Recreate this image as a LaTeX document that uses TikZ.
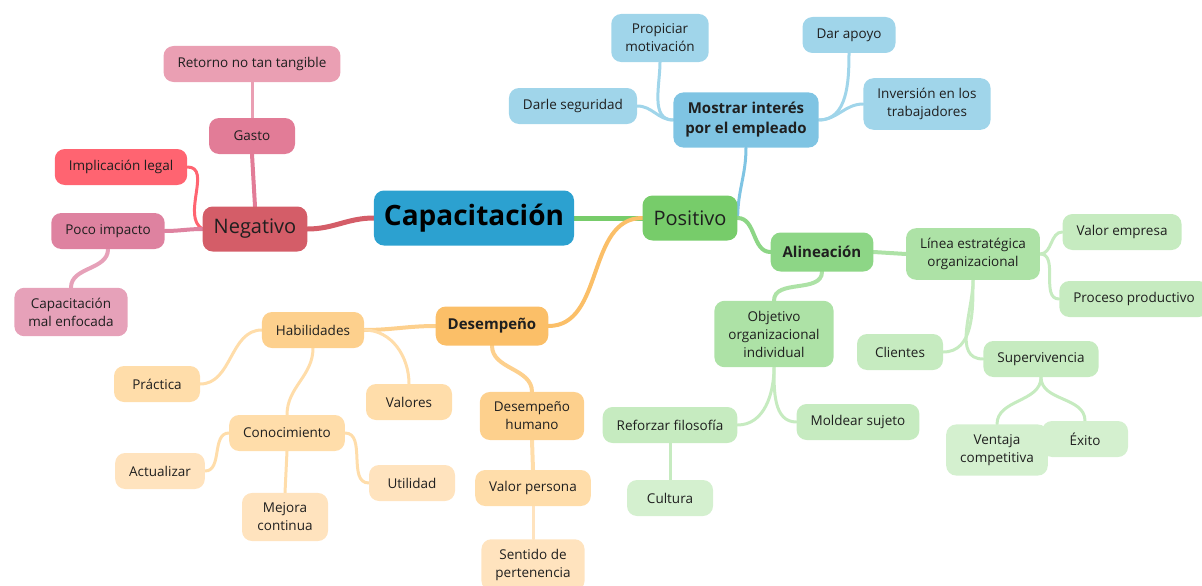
\documentclass[tikz,border=0pt]{standalone}
\usepackage{fontspec}
\setmainfont{Open Sans}
\usetikzlibrary{backgrounds}
\definecolor{txt}{HTML}{1F1F1F}
\definecolor{rootc}{HTML}{2CA1D0}
\definecolor{negc}{HTML}{D45D68}
\definecolor{gasc}{HTML}{E27C97}
\definecolor{retc}{HTML}{EA9FB3}
\definecolor{impc}{HTML}{FF6471}
\definecolor{pocc}{HTML}{DE82A0}
\definecolor{malc}{HTML}{E6A1B9}
\definecolor{posc}{HTML}{77CC6A}
\definecolor{bluea}{HTML}{7FC4E3}
\definecolor{blueb}{HTML}{A0D5EA}
\definecolor{greena}{HTML}{8DD686}
\definecolor{greenb}{HTML}{ADE2A6}
\definecolor{greenc}{HTML}{C6EBC0}
\definecolor{greend}{HTML}{D4F0CF}
\definecolor{orangea}{HTML}{FBBF68}
\definecolor{orangeb}{HTML}{FDD08D}
\definecolor{orangec}{HTML}{FFDDAA}
\definecolor{oranged}{HTML}{FFE3BE}
\begin{document}
\begin{tikzpicture}
	[x=1pt,y=-1pt,
	 box/.style={rounded corners=10pt,inner xsep=14pt,inner ysep=10pt,minimum height=36pt,
	   minimum width=86pt,align=center,text=txt,font=\fontsize{13.5}{18}\selectfont},
	 root/.style={box,fill=rootc,minimum height=55pt,inner xsep=10pt,text=black,
	   font=\fontsize{28}{32}\selectfont\bfseries},
	 branch/.style={box,minimum height=45pt,inner xsep=11pt,font=\fontsize{20}{24}\selectfont},
	 topic/.style={box,minimum height=39pt,inner xsep=12pt,font=\fontsize{15}{20}\selectfont\bfseries},
	 link/.style={line width=4pt,line cap=round},
	 twig/.style={line width=3pt,line cap=round}]
    \useasboundingbox (0,0) rectangle (1202,586);
    % centre and the two sides
    \node[root] (cap) at (474,218) {Capacitación};
    \node[branch,fill=negc] (neg) at (255,229) {Negativo};
    \node[branch,fill=posc] (pos) at (690,218) {Positivo};
    % negativo
    \node[box,fill=gasc] (gas) at (252,136) {Gasto};
    \node[box,fill=retc] (ret) at (252,64) {Retorno no tan tangible};
    \node[box,fill=impc] (imp) at (121,167) {Implicación legal};
    \node[box,fill=pocc] (poc) at (108,231) {Poco impacto};
    \node[box,fill=malc] (mal) at (71,312) {Capacitación\\mal enfocada};
    % mostrar interes
    \node[topic,fill=bluea] (mos) at (746,120) {Mostrar interés\\por el empleado};
    \node[box,fill=blueb] (pro) at (660,38) {Propiciar\\motivación};
    \node[box,fill=blueb] (apo) at (849,35) {Dar apoyo};
    \node[box,fill=blueb] (seg) at (573,106) {Darle seguridad};
    \node[box,fill=blueb] (inv) at (927,104) {Inversión en los\\trabajadores};
    % alineacion
    \node[topic,fill=greena] (ali) at (822,252) {Alineación};
    \node[box,fill=greenb] (lin) at (973,254) {Línea estratégica\\organizacional};
    \node[box,fill=greenc] (vem) at (1122,232) {Valor empresa};
    \node[box,fill=greenc] (ppr) at (1134,299) {Proceso productivo};
    \node[box,fill=greenb] (obj) at (774,334) {Objetivo\\organizacional\\individual};
    \node[box,fill=greenc] (cli) at (900,352) {Clientes};
    \node[box,fill=greenc] (sup) at (1041,359) {Supervivencia};
    \node[box,fill=greend] (exi) at (1085,439) {Éxito};
    \node[box,fill=greend] (ven) at (997,450) {Ventaja\\competitiva};
    \node[box,fill=greenc] (ref) at (670,425) {Reforzar filosofía};
    \node[box,fill=greenc] (mol) at (858,422) {Moldear sujeto};
    \node[box,fill=greend] (cul) at (670,498) {Cultura};
    % desempeno
    \node[topic,fill=orangea] (des) at (492,326) {Desempeño};
    \node[box,fill=orangeb] (hab) at (313,330) {Habilidades};
    \node[box,fill=orangec] (pra) at (157,384) {Práctica};
    \node[box,fill=orangec] (val) at (409,402) {Valores};
    \node[box,fill=orangec] (con) at (287,433) {Conocimiento};
    \node[box,fill=oranged] (act) at (160,471) {Actualizar};
    \node[box,fill=oranged] (uti) at (412,483) {Utilidad};
    \node[box,fill=oranged] (mej) at (285,517) {Mejora\\continua};
    \node[box,fill=orangeb] (dhu) at (532,416) {Desempeño\\humano};
    \node[box,fill=orangec] (vpe) at (533,488) {Valor persona};
    \node[box,fill=oranged] (sen) at (533,565) {Sentido de\\pertenencia};
    \begin{scope}[on background layer]
    \draw [link,line width=5pt,negc] (cap.west) to[out=180,in=0] (neg.east);
    \draw [link,line width=5pt,posc] (cap.east) -- (pos.west);
    \draw [link,orangea] (pos.west) to[out=180,in=0] (des.east);
    \draw [twig,bluea] (pos.east) to[out=90,in=-90] (mos.south);
    \draw [link,greena] (pos.east) to[out=0,in=180] (ali.west);
    \draw [link,gasc] (neg.north) -- (gas.south);
    \draw [twig,retc] (gas.north) -- (ret.south);
    \draw [twig,impc] (neg.west) to[out=150,in=0] (imp.east);
    \draw [link,pocc] (neg.west) to[out=180,in=0] (poc.east);
    \draw [link,malc] (poc.south) to[out=-90,in=90] (mal.north);
    \draw [twig,blueb] (mos.west) to[out=180,in=-90] (pro.south);
    \draw [twig,blueb] (mos.west) to[out=180,in=0] (seg.east);
    \draw [twig,blueb] (mos.east) to[out=0,in=-90] (apo.south);
    \draw [twig,blueb] (mos.east) to[out=0,in=180] (inv.west);
    \draw [link,greenb] (ali.east) -- (lin.west);
    \draw [link,greenb] (ali.south) to[out=-90,in=90] (obj.north);
    \draw [twig,greenc] (lin.east) to[out=0,in=180] (vem.west);
    \draw [twig,greenc] (lin.east) to[out=0,in=180] (ppr.west);
    \draw [twig,greenc] (lin.south) to[out=-90,in=0] (cli.east);
    \draw [twig,greenc] (lin.south) to[out=-90,in=180] (sup.west);
    \draw [twig,greenc] (sup.south) to[out=-90,in=90] (ven.north);
    \draw [twig,greenc] (sup.south) to[out=-90,in=90] (exi.north);
    \draw [twig,greenc] (obj.south) to[out=-90,in=0] (ref.east);
    \draw [twig,greenc] (obj.south) to[out=-90,in=180] (mol.west);
    \draw [twig,greenc] (ref.south) -- (cul.north);
    \draw [link,orangeb] (des.west) to[out=180,in=0] (hab.east);
    \draw [link,orangeb] (des.south) to[out=-90,in=90] (dhu.north);
    \draw [twig,orangec] (hab.west) to[out=180,in=0] (pra.east);
    \draw [twig,orangec] (hab.east) to[out=0,in=90] (val.north);
    \draw [twig,orangec] (hab.south) to[out=-90,in=90] (con.north);
    \draw [twig,orangec] (con.west) to[out=180,in=0] (act.east);
    \draw [twig,orangec] (con.east) to[out=0,in=180] (uti.west);
    \draw [twig,orangec] (con.south) -- (mej.north);
    \draw [link,orangec] (dhu.south) -- (vpe.north);
    \draw [twig,oranged] (vpe.south) -- (sen.north);
    \end{scope}
\end{tikzpicture}
\end{document}
